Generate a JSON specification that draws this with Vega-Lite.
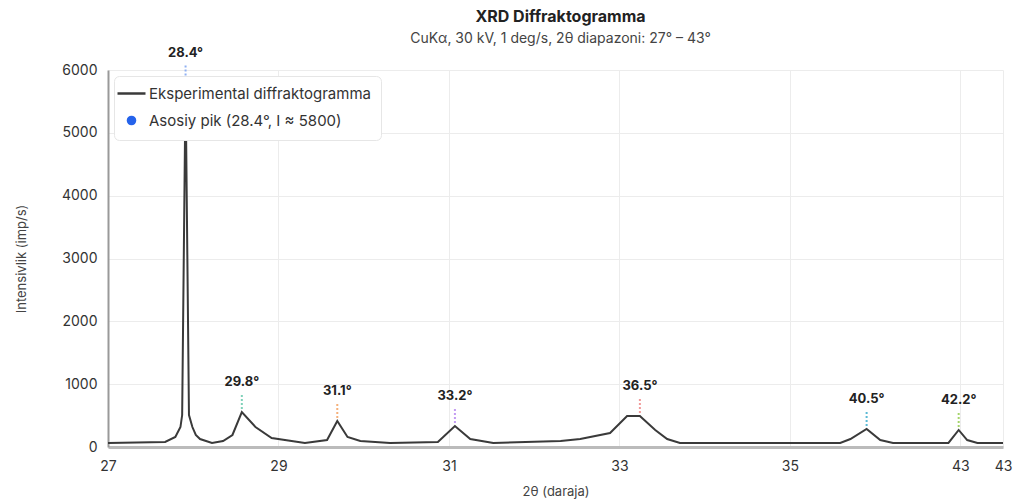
{
  "$schema": "https://vega.github.io/schema/vega-lite/v6.json",
  "width": 895,
  "height": 377,
  "autosize": {"type": "none"},
  "padding": {"left": 108, "top": 70, "right": 11, "bottom": 56},
  "background": "white",
  "title": {
    "text": "XRD Diffraktogramma",
    "subtitle": "CuKα, 30 kV, 1 deg/s, 2θ diapazoni: 27° – 43°",
    "anchor": "middle",
    "dx": 5,
    "offset": 1,
    "font": "Inter",
    "fontSize": 16,
    "fontWeight": "bold",
    "color": "#222222",
    "subtitleFont": "Inter",
    "subtitleFontSize": 14,
    "subtitleColor": "#444444",
    "subtitlePadding": 7
  },
  "config": {
    "font": "Inter",
    "view": {"stroke": null},
    "legend": {
      "orient": "top-left",
      "offset": 6,
      "title": null,
      "fillColor": "white",
      "strokeColor": "#e6e6e6",
      "cornerRadius": 5,
      "padding": 10,
      "labelFont": "Inter",
      "labelFontSize": 15,
      "labelColor": "#333333",
      "labelLimit": 500,
      "rowPadding": 9,
      "symbolSize": 784,
      "labelOffset": 10
    }
  },
  "datasets": {
    "scan": [
      {"x": 27.00, "I": 64},
      {"x": 27.67, "I": 80},
      {"x": 27.79, "I": 159},
      {"x": 27.85, "I": 318},
      {"x": 27.87, "I": 509},
      {"x": 27.91, "I": 5800},
      {"x": 27.95, "I": 509},
      {"x": 27.99, "I": 318},
      {"x": 28.03, "I": 191},
      {"x": 28.08, "I": 127},
      {"x": 28.22, "I": 64},
      {"x": 28.35, "I": 95},
      {"x": 28.46, "I": 191},
      {"x": 28.57, "I": 557},
      {"x": 28.73, "I": 318},
      {"x": 28.92, "I": 143},
      {"x": 29.31, "I": 64},
      {"x": 29.57, "I": 111},
      {"x": 29.69, "I": 414},
      {"x": 29.81, "I": 159},
      {"x": 29.96, "I": 95},
      {"x": 30.31, "I": 64},
      {"x": 30.87, "I": 80},
      {"x": 31.07, "I": 334},
      {"x": 31.25, "I": 127},
      {"x": 31.52, "I": 64},
      {"x": 32.31, "I": 95},
      {"x": 32.54, "I": 127},
      {"x": 32.89, "I": 223},
      {"x": 33.09, "I": 493},
      {"x": 33.24, "I": 493},
      {"x": 33.42, "I": 271},
      {"x": 33.56, "I": 127},
      {"x": 33.71, "I": 64},
      {"x": 35.59, "I": 64},
      {"x": 35.71, "I": 127},
      {"x": 35.90, "I": 287},
      {"x": 36.06, "I": 111},
      {"x": 36.21, "I": 64},
      {"x": 36.86, "I": 64},
      {"x": 36.98, "I": 271},
      {"x": 37.08, "I": 111},
      {"x": 37.20, "I": 64},
      {"x": 37.50, "I": 64}
    ],
    "peaks": [
      {"x": 27.91, "I": 5800, "label": "28.4°"},
      {"x": 28.57, "I": 557, "label": "29.8°"},
      {"x": 29.69, "I": 414, "label": "31.1°"},
      {"x": 31.07, "I": 334, "label": "33.2°"},
      {"x": 33.24, "I": 493, "label": "36.5°"},
      {"x": 35.90, "I": 287, "label": "40.5°"},
      {"x": 36.98, "I": 271, "label": "42.2°"}
    ],
    "main": [
      {"x": 27.91, "I": 5800}
    ]
  },
  "encoding": {
    "x": {
      "field": "x",
      "type": "quantitative",
      "scale": {"domain": [27, 37.5], "nice": false, "zero": false},
      "axis": {
        "values": [27, 29, 31, 33, 35, 37, 37.5],
        "labelExpr": "datum.value >= 37 ? '43' : format(datum.value, 'd')",
        "title": "2θ (daraja)",
        "ticks": false,
        "domainColor": "#bbbbbb",
        "domainWidth": 3,
        "gridColor": "#ececec",
        "labelPadding": 12,
        "labelFontSize": 14,
        "labelColor": "#333333",
        "labelOverlap": false,
        "labelFlush": false,
        "labelBound": false,
        "titleFontSize": 13,
        "titleFontWeight": "normal",
        "titleColor": "#444444",
        "titlePadding": 12
      }
    },
    "y": {
      "field": "I",
      "type": "quantitative",
      "scale": {"domain": [0, 6000], "nice": false},
      "axis": {
        "values": [0, 1000, 2000, 3000, 4000, 5000, 6000],
        "format": "d",
        "title": "Intensivlik (imp/s)",
        "ticks": false,
        "domainColor": "#999999",
        "domainWidth": 2,
        "gridColor": "#ececec",
        "labelPadding": 11,
        "labelFontSize": 14,
        "labelColor": "#333333",
        "titleFontSize": 13,
        "titleFontWeight": "normal",
        "titleColor": "#444444",
        "titlePadding": 33
      }
    }
  },
  "layer": [
    {
      "data": {"name": "scan"},
      "mark": {"type": "line", "strokeWidth": 2, "interpolate": "linear"},
      "encoding": {
        "color": {
          "datum": "Eksperimental diffraktogramma",
          "type": "nominal",
          "scale": {
            "domain": ["Eksperimental diffraktogramma", "Asosiy pik (28.4°, I ≈ 5800)"],
            "range": ["#3a3a3a", "#2563eb"]
          },
          "legend": {
            "encode": {
              "symbols": {
                "update": {
                  "shape": {"signal": "datum.value === 'Eksperimental diffraktogramma' ? 'stroke' : 'circle'"},
                  "size": {"signal": "datum.value === 'Eksperimental diffraktogramma' ? 784 : 50"},
                  "fill": {"signal": "datum.value === 'Eksperimental diffraktogramma' ? 'transparent' : '#2563eb'"},
                  "stroke": {"signal": "datum.value === 'Eksperimental diffraktogramma' ? '#444444' : 'transparent'"},
                  "strokeWidth": {"value": 2.5},
                  "opacity": {"value": 1}
                }
              }
            }
          }
        }
      }
    },
    {
      "data": {"name": "main"},
      "mark": {"type": "point", "filled": true, "size": 60, "opacity": 1},
      "encoding": {
        "color": {"datum": "Asosiy pik (28.4°, I ≈ 5800)", "type": "nominal"}
      }
    },
    {
      "data": {"name": "peaks"},
      "mark": {"type": "rule", "strokeDash": [2, 2], "strokeWidth": 2, "yOffset": -3, "y2Offset": -18},
      "encoding": {
        "y2": {"field": "I"},
        "stroke": {
          "field": "label",
          "type": "nominal",
          "scale": {
            "domain": ["28.4°", "29.8°", "31.1°", "33.2°", "36.5°", "40.5°", "42.2°"],
            "range": ["#8fb0f2", "#7fd1b9", "#f5b07a", "#c39cf2", "#f19a9a", "#5bbad5", "#a5d46a"]
          },
          "legend": null
        }
      }
    },
    {
      "data": {"name": "peaks"},
      "mark": {"type": "text", "dy": -30, "fontWeight": "bold", "fontSize": 13, "color": "#222222", "baseline": "middle"},
      "encoding": {
        "text": {"field": "label"}
      }
    }
  ]
}
